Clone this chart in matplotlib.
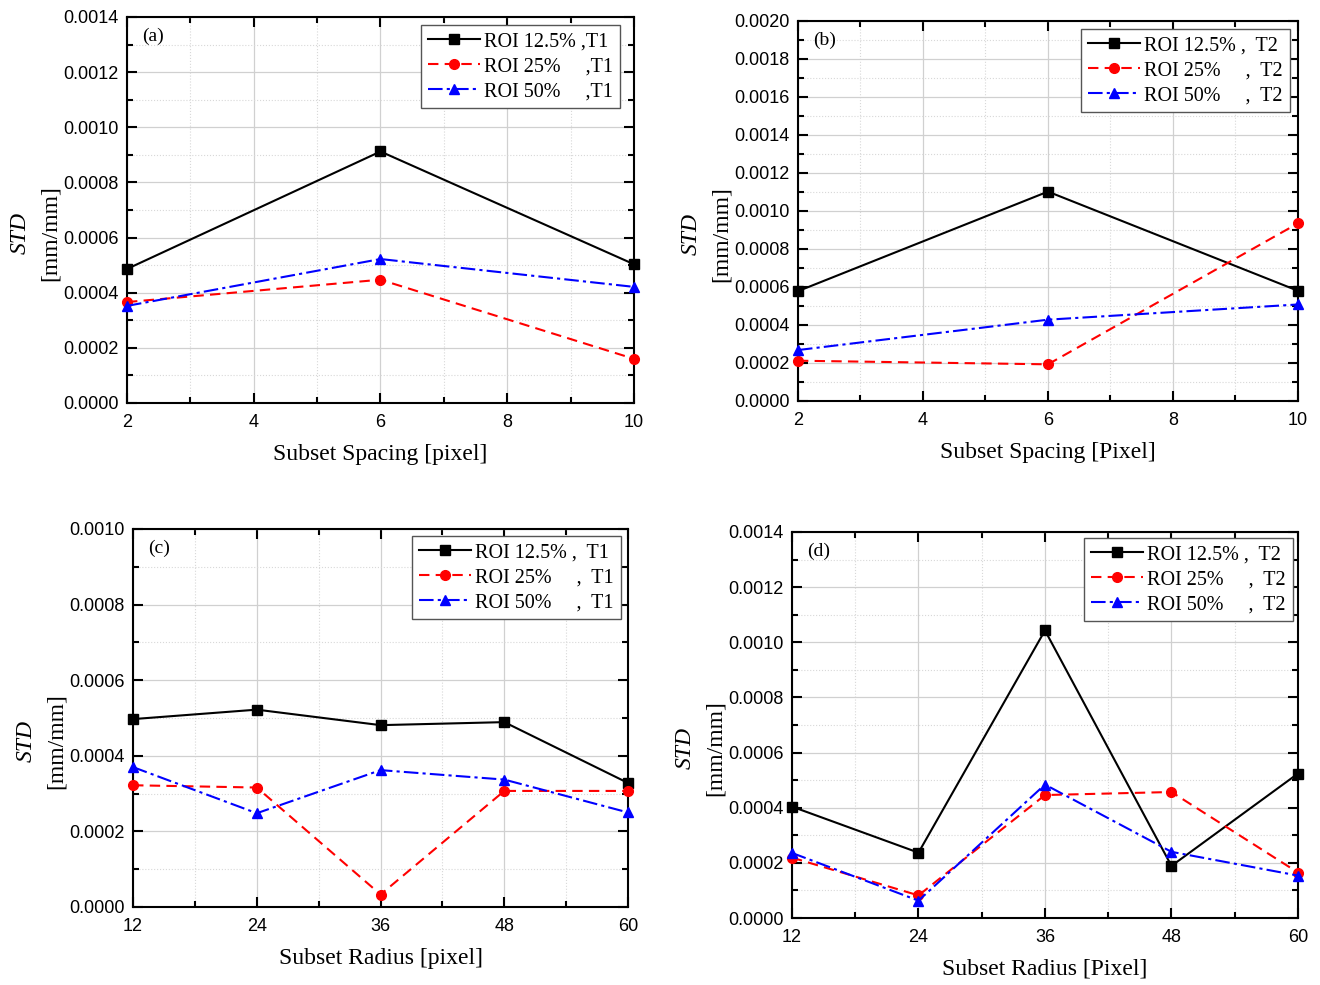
import numpy as np
import matplotlib.pyplot as plt
from matplotlib.ticker import MultipleLocator, AutoMinorLocator, FormatStrFormatter

# data
spacing = [2, 6, 10]
radius = [12, 24, 36, 48, 60]

a_roi125 = [0.000486, 0.000912, 0.000503]
a_roi25 = [0.000366, 0.000447, 0.000160]
a_roi50 = [0.000352, 0.000522, 0.000421]

b_roi125 = [0.000578, 0.001102, 0.000580]
b_roi25 = [0.000212, 0.000193, 0.000935]
b_roi50 = [0.000268, 0.000428, 0.000508]

c_roi125 = [0.000497, 0.000522, 0.000481, 0.000489, 0.000328]
c_roi25 = [0.000322, 0.000316, 0.000033, 0.000307, 0.000307]
c_roi50 = [0.000370, 0.000248, 0.000362, 0.000337, 0.000250]

d_roi125 = [0.000404, 0.000237, 0.001043, 0.000189, 0.000524]
d_roi25 = [0.000219, 0.000082, 0.000446, 0.000457, 0.000165]
d_roi50 = [0.000236, 0.000063, 0.000484, 0.000240, 0.000154]

serif = 'Liberation Serif'
sans = 'Liberation Sans'

fig = plt.figure(figsize=(13.2, 9.85), dpi=100)

panels = [
    # rect, x, series, ymax, xticks, xlabel, tag, legend labels, legend pad (px right, px top)
    ([0.0962, 0.5909, 0.3841, 0.3919], spacing, (a_roi125, a_roi25, a_roi50), 0.0014,
     [2, 4, 6, 8, 10], 'Subset Spacing [pixel]', '(a)',
     ['ROI 12.5% ,T1', 'ROI 25%     ,T1', 'ROI 50%     ,T1'], (14, 8)),
    ([0.6045, 0.5929, 0.3788, 0.3858], spacing, (b_roi125, b_roi25, b_roi50), 0.0020,
     [2, 4, 6, 8, 10], 'Subset Spacing [Pixel]', '(b)',
     ['ROI 12.5% ,  T2', 'ROI 25%     ,  T2', 'ROI 50%     ,  T2'], (8, 8)),
    ([0.1008, 0.0792, 0.3750, 0.3838], radius, (c_roi125, c_roi25, c_roi50), 0.0010,
     [12, 24, 36, 48, 60], 'Subset Radius [pixel]', '(c)',
     ['ROI 12.5% ,  T1', 'ROI 25%     ,  T1', 'ROI 50%     ,  T1'], (7, 7)),
    ([0.6000, 0.0680, 0.3833, 0.3919], radius, (d_roi125, d_roi25, d_roi50), 0.0014,
     [12, 24, 36, 48, 60], 'Subset Radius [Pixel]', '(d)',
     ['ROI 12.5% ,  T2', 'ROI 25%     ,  T2', 'ROI 50%     ,  T2'], (5, 6)),
]

styles = [
    dict(color='black', ls='-', marker='s'),
    dict(color='red', ls=(0, (5, 3)), marker='o'),
    dict(color='blue', ls=(0, (7, 2, 1.5, 2)), marker='^'),
]

for rect, x, series, ymax, xticks, xlabel, tag, labels, lpad in panels:
    ax = fig.add_axes(rect)
    wpx = rect[2] * 1320
    hpx = rect[3] * 985
    for y, st, lab in zip(series, styles, labels):
        ax.plot(x, y, color=st['color'], ls=st['ls'], marker=st['marker'],
                markersize=7, lw=1.5, label=lab, clip_on=False, zorder=3)
    ax.set_xlim(xticks[0], xticks[-1])
    ax.set_ylim(0, ymax)
    ax.set_xticks(xticks)
    ax.yaxis.set_major_locator(MultipleLocator(0.0002))
    ax.xaxis.set_minor_locator(AutoMinorLocator(2))
    ax.yaxis.set_minor_locator(AutoMinorLocator(2))
    ax.yaxis.set_major_formatter(FormatStrFormatter('%.4f'))
    ax.grid(which='major', color='#d0d0d0', lw=0.9)
    ax.grid(which='minor', color='#d8d8d8', lw=0.8, ls=':')
    ax.set_axisbelow(True)
    ax.tick_params(which='both', direction='in', top=True, right=True, width=1.5)
    ax.tick_params(which='major', length=7, labelsize=13, pad=6)
    ax.tick_params(axis='x', which='major', pad=8)
    ax.tick_params(which='minor', length=4)
    for lbl in ax.get_xticklabels() + ax.get_yticklabels():
        lbl.set_family(sans)
    for sp in ax.spines.values():
        sp.set_linewidth(1.5)
    ax.set_xlabel(xlabel, family=serif, fontsize=17, labelpad=9)
    ax.set_ylabel('[mm/mm]', family=serif, fontsize=17)
    ax.yaxis.set_label_coords(-66 / wpx, 0.44)
    ax.text(-107 / wpx, 0.44, 'STD', transform=ax.transAxes, rotation=90,
            family=serif, style='italic', fontsize=17, ha='center', va='center')
    ax.text(0.03, 0.972, tag, transform=ax.transAxes, family=serif,
            fontsize=14, ha='left', va='top')
    leg = ax.legend(loc='upper right',
                    bbox_to_anchor=(1 - lpad[0] / wpx, 1 - lpad[1] / hpx),
                    prop={'family': serif, 'size': 14.5},
                    handlelength=2.6, fancybox=False, framealpha=1,
                    edgecolor='#555555', borderaxespad=0, labelspacing=0.3,
                    borderpad=0.35, handletextpad=0.2)
    leg.get_frame().set_linewidth(1.0)

fig.savefig('out.png', dpi=100)
